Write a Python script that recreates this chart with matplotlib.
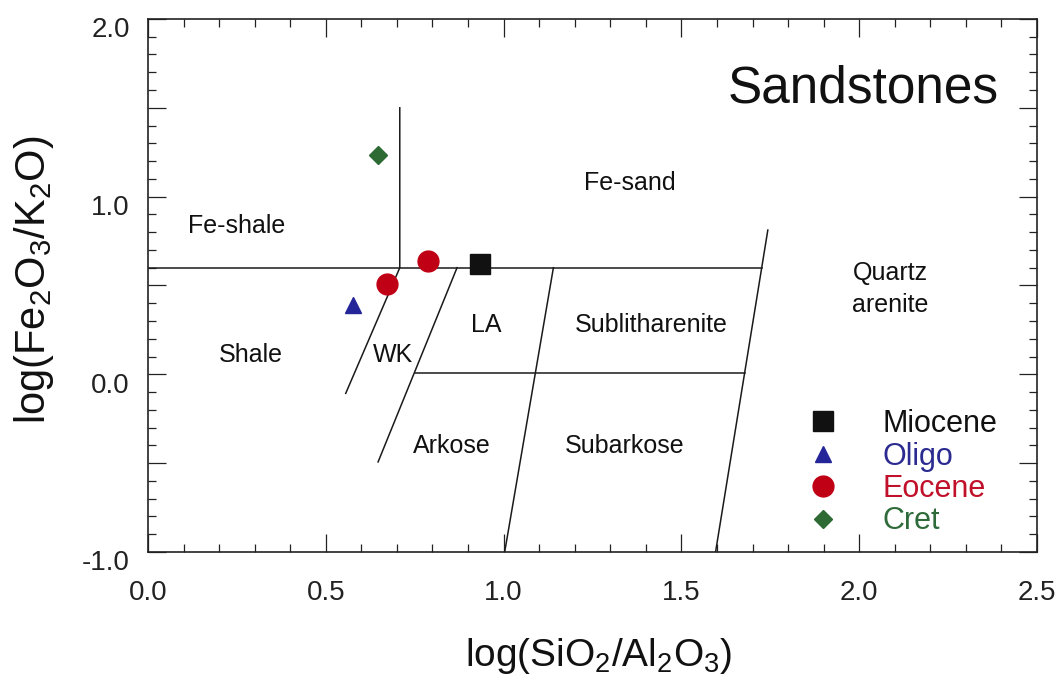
import matplotlib
matplotlib.use('Agg')
import matplotlib.pyplot as plt
import matplotlib.transforms as mtransforms
from matplotlib.ticker import MultipleLocator, FuncFormatter

plt.rcParams['font.family'] = ['Liberation Sans', 'DejaVu Sans']
plt.rcParams['mathtext.fontset'] = 'custom'
plt.rcParams['mathtext.rm'] = 'Liberation Sans'
plt.rcParams['mathtext.it'] = 'Liberation Sans:italic'
plt.rcParams['mathtext.bf'] = 'Liberation Sans:bold'
plt.rcParams['mathtext.default'] = 'regular'

# samples: log(SiO2/Al2O3), log(Fe2O3/K2O)
miocene_x = [0.934]
miocene_y = [0.621]
oligo_x = [0.576]
oligo_y = [0.390]
eocene_x = [0.787, 0.672]
eocene_y = [0.638, 0.508]
cret_x = [0.647]
cret_y = [1.234]

# field boundaries of the classification diagram
boundary_x = [
    [0.0, 1.726],
    [0.708, 0.708, 0.556],
    [0.869, 0.647],
    [1.140, 1.003],
    [1.743, 1.596],
    [0.751, 1.678],
]
boundary_y = [
    [0.6, 0.6],
    [1.5, 0.6, -0.107],
    [0.6, -0.493],
    [0.6, -1.0],
    [0.812, -1.0],
    [0.01, 0.01],
]

# field names and where they sit (baseline)
field_names = ['Fe-shale', 'Fe-sand', 'Shale', 'WK', 'LA', 'Sublitharenite',
               'Quartz', 'arenite', 'Arkose', 'Subarkose']
field_x = [0.249, 1.354, 0.289, 0.689, 0.951, 1.416, 2.087, 2.087, 0.855, 1.339]
field_y = [0.793, 1.037, 0.071, 0.071, 0.240, 0.240, 0.531, 0.352, -0.445, -0.445]

fig = plt.figure(figsize=(10.61, 6.77), dpi=100)
ax = fig.add_axes([0.1395, 0.1846, 0.8379, 0.7874])

for bx, by in zip(boundary_x, boundary_y):
    ax.plot(bx, by, color='#1a1a1a', linewidth=1.1, zorder=2)

for name, tx, ty in zip(field_names, field_x, field_y):
    ax.text(tx, ty, name, fontsize=18, ha='center', va='baseline', color='#111111')

ax.text(2.011, 1.532, 'Sandstones', fontsize=37, ha='center', va='baseline', color='#111111')

ax.plot(miocene_x, miocene_y, 's', color='#111111', markersize=14, linestyle='none', label='Miocene', zorder=3)
ax.plot(oligo_x, oligo_y, '^', color='#25259a', markersize=12, linestyle='none', label='Oligo', zorder=3)
ax.plot(eocene_x, eocene_y, 'o', color='#c00014', markersize=15, linestyle='none', label='Eocene', zorder=3)
ax.plot(cret_x, cret_y, 'D', color='#2e6b34', markersize=9, linestyle='none', label='Cret', zorder=3)

ax.legend(loc='upper left', bbox_to_anchor=(0.7435, 0.268), frameon=False, fontsize=22,
          borderpad=0, borderaxespad=0, handlelength=0.9, handletextpad=1.5,
          labelspacing=0.08, labelcolor=['#111111', '#2a2a90', '#c0102a', '#2f6b3a'])

ax.set_xlim(0, 2.5)
ax.set_ylim(-1.0, 2.0)
ax.xaxis.set_major_locator(MultipleLocator(0.5))
ax.xaxis.set_minor_locator(MultipleLocator(0.1))
ax.yaxis.set_major_locator(MultipleLocator(0.5))
ax.yaxis.set_minor_locator(MultipleLocator(0.1))
ax.yaxis.set_major_formatter(FuncFormatter(lambda v, p: '%.1f' % v if abs(v - round(v)) < 1e-6 else ''))
ax.xaxis.set_major_formatter(FuncFormatter(lambda v, p: '%.1f' % v))

ax.tick_params(which='both', direction='in', top=True, right=True, width=0.9, color='#222222')
ax.tick_params(which='major', length=13)
ax.tick_params(which='minor', length=6)
ax.tick_params(axis='x', which='major', labelsize=20, pad=20, labelcolor='#222222')
ax.tick_params(axis='y', which='major', labelsize=20, pad=13, labelcolor='#222222')
for spine in ax.spines.values():
    spine.set_linewidth(1.2)
    spine.set_color('#222222')

# y tick labels sit a little below their ticks in the original
shift = mtransforms.ScaledTranslation(0, -6 / 72, fig.dpi_scale_trans)
for lab in ax.get_yticklabels():
    lab.set_transform(lab.get_transform() + shift)

ax.set_xlabel('log(SiO$_2$/Al$_2$O$_3$)', fontsize=28, color='#111111')
ax.set_ylabel('log(Fe$_2$O$_3$/K$_2$O)', fontsize=30, color='#111111')
ax.xaxis.set_label_coords(0.507, -0.158)
ax.yaxis.set_label_coords(-0.103, 0.51)

fig.savefig('out.png', dpi=100)
